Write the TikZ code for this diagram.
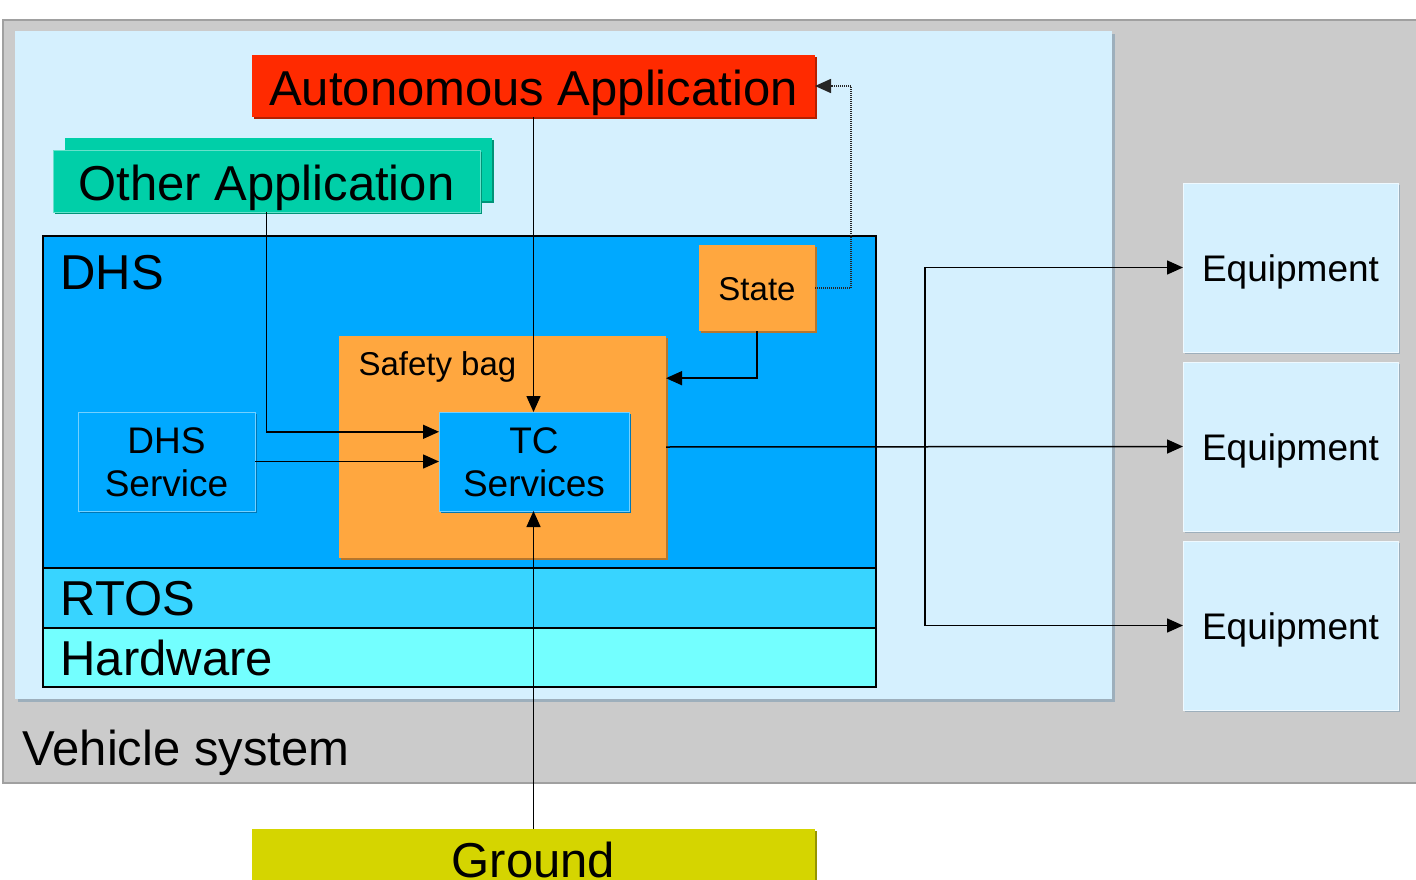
\documentclass[tikz,border=0pt]{standalone}
\usepackage{fontspec}
\setmainfont{Liberation Sans}
\usetikzlibrary{arrows.meta,calc}
\definecolor{vgray}{HTML}{CBCBCB}
\definecolor{vgrayedge}{HTML}{A0A0A0}
\definecolor{lblue}{HTML}{D5F0FE}
\definecolor{lblueshadow}{HTML}{9DAFBC}
\definecolor{autored}{HTML}{FF2A00}
\definecolor{autoredsh}{HTML}{B52000}
\definecolor{teal}{HTML}{00CFA8}
\definecolor{tealsh}{HTML}{009478}
\definecolor{dhsblue}{HTML}{00A9FF}
\definecolor{dhsbluesh}{HTML}{0077B5}
\definecolor{rtosblue}{HTML}{38D4FF}
\definecolor{hwcyan}{HTML}{73FFFF}
\definecolor{orng}{HTML}{FFA73F}
\definecolor{orngsh}{HTML}{B5762C}
\definecolor{grnd}{HTML}{D5D500}
\definecolor{grndsh}{HTML}{959500}
\tikzset{
  box/.style={rectangle, inner sep=0pt, outer sep=0pt, text depth=0pt},
  shad/.style={preaction={fill=#1, transform canvas={xshift=2pt,yshift=-2pt}}},
  layer/.style={box, draw=black, line width=1.2pt},
  conn/.style={line width=1.5pt, draw=black},
  arr/.style={conn, -{Triangle[length=16pt,width=14pt]}},
  dotconn/.style={line width=1.6pt, draw=black!85, dash pattern=on 1pt off 1pt, -{Triangle[length=16pt,width=14pt]}},
  big/.style={font=\fontsize{49}{52}\selectfont},
  mid/.style={font=\fontsize{37}{43}\selectfont},
  small/.style={font=\fontsize{33}{38}\selectfont},
}
\begin{document}
\begin{tikzpicture}[x=1pt,y=-1pt]
\useasboundingbox (0,0) rectangle (1416,880);
\clip (0,0) rectangle (1416,880);
\fill[white] (0,0) rectangle (1416,880);
% vehicle system
\filldraw[fill=vgray, draw=vgrayedge, line width=2pt] (3,20) rectangle (1430,783);
\node[anchor=base west, big] (vslabel) at (19,765) {Vehicle system};
% inner light blue area
\fill[lblueshadow] (18,34) rectangle (1115,702);
\fill[lblue] (15,31) rectangle (1112,699);
% Autonomous application
\node[box, shad=autoredsh, fill=autored, minimum width=563pt, minimum height=62pt,
      text height=40pt, big] (auto) at (533.5,86) {Autonomous Application};
% Other application (stacked)
\node[box, shad=tealsh, fill=teal, minimum width=427pt, minimum height=63pt] (otherback) at (278.5,169.5) {};
\node[box, shad=tealsh, fill=teal, draw=teal!60!white, line width=0.8pt, minimum width=427pt, minimum height=62pt,
      text height=38pt, big] (other) at (266.5,181) {Other Application};
% DHS, RTOS, Hardware layers
\node[layer, fill=dhsblue, minimum width=833pt, minimum height=332pt] (dhs) at (459.5,402) {};
\node[anchor=base west, big] (dhslabel) at (57,289) {DHS};
\node[layer, fill=rtosblue, minimum width=833pt, minimum height=60pt] (rtos) at (459.5,598) {};
\node[anchor=base west, big] (rtoslabel) at (57,615) {RTOS};
\node[layer, fill=hwcyan, minimum width=833pt, minimum height=59pt] (hw) at (459.5,657.5) {};
\node[anchor=base west, big] (hwlabel) at (57,675) {Hardware};
% State
\node[box, shad=orngsh, fill=orng, minimum width=116pt, minimum height=86pt,
      text height=24pt, small] (state) at (757,288) {State};
% Safety bag
\node[box, shad=orngsh, fill=orng, minimum width=327pt, minimum height=222pt] (safety) at (502.5,447) {};
\node[anchor=base west, small] (safetylabel) at (355,375) {Safety bag};
% TC services
\node[box, shad=dhsbluesh, fill=dhsblue, draw=dhsblue!55!white, line width=0.8pt, minimum width=190pt, minimum height=99pt,
      align=center, text height=70pt, text depth=0pt, mid] (tc) at (534,461.5) {TC\\Services};
% DHS service
\node[box, shad=dhsbluesh, fill=dhsblue, draw=dhsblue!55!white, line width=0.8pt, minimum width=177pt, minimum height=99pt,
      align=center, text height=70pt, text depth=0pt, mid] (dhsserv) at (166.5,461.5) {DHS\\Service};
% Equipment
\foreach \n/\y in {1/267.5, 2/446.5, 3/625.5}{
  \node[box, shad=lblueshadow, fill=lblue, draw=white!60!lblue, line width=0.8pt, minimum width=215pt, minimum height=169pt,
        text height=28pt, mid] (equip\n) at (1290.5,\y) {Equipment};
}
% Ground
\node[box, shad=grndsh, fill=grnd, minimum width=563pt, minimum height=62pt,
      text height=34pt, big] (ground) at (533.5,860) {Ground};
% connectors
\draw[arr] (auto.south) -- (auto.south |- tc.north);
\coordinate (tcin1) at ($(tc.north west)!0.2!(tc.south west)$);
\draw[arr] (other.south) |- (tcin1);
\draw[arr] (dhsserv.east) -- (tc.west);
\coordinate (safin) at ($(safety.north east)!0.19!(safety.south east)$);
\draw[arr] (state.south) |- (safin);
\draw[dotconn] (state.east) -- ++(36,0) |- (auto.east);
\draw[arr] (safety.east) -- (equip2.west);
\coordinate (bus) at (925,446.5);
\draw[arr] (bus) |- (equip1.west);
\draw[arr] (bus) |- (equip3.west);
\draw[arr] (ground.north) -- (ground.north |- tc.south);
\end{tikzpicture}
\end{document}
